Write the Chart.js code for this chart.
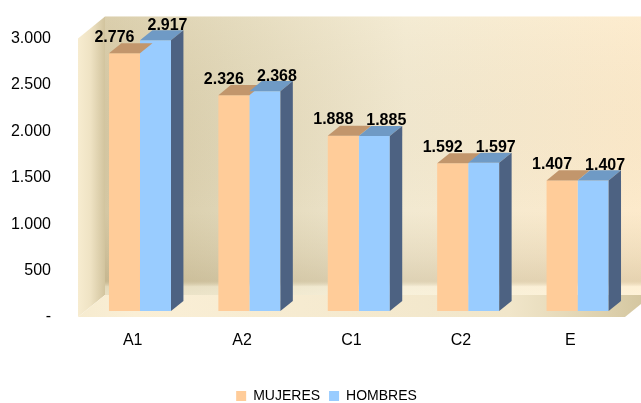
<!DOCTYPE html>
<html>
<head>
<meta charset="utf-8">
<script src="https://cdn.jsdelivr.net/npm/chart.js@4/dist/chart.umd.min.js"></script>
<style>
  html, body { margin: 0; padding: 0; background: #ffffff; }
  #wrap { width: 641px; height: 403px; }
</style>
</head>
<body>
<div id="wrap"><canvas id="chart" width="641" height="403"></canvas></div>
<script>
// Niveles y número de personas por sexo
const categories = ['A1', 'A2', 'C1', 'C2', 'E'];
const mujeres = [2776, 2326, 1888, 1592, 1407];
const hombres = [2917, 2368, 1885, 1597, 1407];
const seriesNames = ['MUJERES', 'HOMBRES'];
const yMax = 3000;
const yStep = 500;

// Perspective of the 3D box: depth offset of the back plane, and where the
// bars sit inside that depth (fractions of it).
const DEPTH = { x: 27, y: -22 };
const BAR_FRONT = 0.27;
const BAR_BACK = 0.73;

const faceColors = [
  { front: '#FFCC99', top: '#C2966C', side: '#B0845A' },
  { front: '#99CCFF', top: '#6F9AC5', side: '#4D6282' }
];

// Spanish thousands separator: 2776 -> "2.776"
function fmt(v) {
  return String(Math.round(v)).replace(/\B(?=(\d{3})+(?!\d))/g, '.');
}

function poly(ctx, pts, color) {
  ctx.beginPath();
  ctx.moveTo(pts[0][0], pts[0][1]);
  for (let i = 1; i < pts.length; i++) ctx.lineTo(pts[i][0], pts[i][1]);
  ctx.closePath();
  ctx.fillStyle = color;
  ctx.fill();
}

// Walls and floor of the 3D plot box
const boxPlugin = {
  id: 'box3d',
  afterLayout(chart) {
    // centre the legend under the plot box rather than the whole canvas
    if (chart.legend) {
      chart.legend.left += 14;
      chart.legend.right += 14;
    }
  },
  beforeDraw(chart) {
    const { ctx, chartArea: a } = chart;
    const dx = DEPTH.x, dy = DEPTH.y;
    ctx.save();

    // back wall
    const bl = a.left + dx, bt = a.top + dy, br = a.right + dx, bb = a.bottom + dy;
    let g = ctx.createLinearGradient(bl, 0, br, 0);
    g.addColorStop(0, '#D4C7A3');
    g.addColorStop(0.22, '#DFD5B6');
    g.addColorStop(0.55, '#F2E9D1');
    g.addColorStop(1, '#FDEACB');
    ctx.fillStyle = g;
    ctx.fillRect(bl, bt, br - bl, bb - bt);
    let v = ctx.createLinearGradient(0, bt, 0, bb);
    v.addColorStop(0, 'rgba(255,248,225,0.15)');
    v.addColorStop(0.7, 'rgba(160,140,90,0.0)');
    v.addColorStop(0.86, 'rgba(150,128,80,0.12)');
    v.addColorStop(0.95, 'rgba(150,128,80,0.22)');
    v.addColorStop(0.97, 'rgba(255,250,230,0.35)');
    v.addColorStop(1, 'rgba(255,250,230,0.45)');
    ctx.fillStyle = v;
    ctx.fillRect(bl, bt, br - bl, bb - bt);

    // left side wall
    g = ctx.createLinearGradient(a.left, 0, a.left + dx, 0);
    g.addColorStop(0, '#F7ECD0');
    g.addColorStop(0.45, '#EFE3C4');
    g.addColorStop(1, '#D2C49E');
    poly(ctx, [[a.left, a.top], [bl, bt], [bl, bb], [a.left, a.bottom]], g);

    // floor
    g = ctx.createLinearGradient(a.left, 0, br, 0);
    g.addColorStop(0, '#F6EBCF');
    g.addColorStop(0.1, '#FAEFD6');
    g.addColorStop(0.75, '#F1E6CA');
    g.addColorStop(0.93, '#DCCFAB');
    g.addColorStop(1, '#D2C49D');
    poly(ctx, [[a.left, a.bottom], [a.right, a.bottom], [br, bb], [bl, bb]], g);

    ctx.restore();
  },
  beforeDatasetsDraw(chart) {
    // bars stand part-way into the box depth
    chart.ctx.save();
    chart.ctx.translate(DEPTH.x * BAR_FRONT, DEPTH.y * BAR_FRONT);
  },
  afterDatasetsDraw(chart) {
    const ctx = chart.ctx;
    const bx = DEPTH.x * (BAR_BACK - BAR_FRONT);
    const by = DEPTH.y * (BAR_BACK - BAR_FRONT);
    const metas = chart.data.datasets.map((d, i) => chart.getDatasetMeta(i));

    metas.forEach((meta, di) => {
      const next = metas[di + 1];
      meta.data.forEach((el, j) => {
        const p = el.getProps(['x', 'y', 'base', 'width'], true);
        const l = p.x - p.width / 2, r = p.x + p.width / 2, t = p.y, b = p.base;
        const c = faceColors[di];
        // top face
        poly(ctx, [[l, t], [r, t], [r + bx, t + by], [l + bx, t + by]], c.top);
        // right face: fully for the last bar of a group, otherwise only
        // the part that rises above its neighbour
        if (!next) {
          poly(ctx, [[r, t], [r + bx, t + by], [r + bx, b + by], [r, b]], c.side);
        } else {
          const nt = next.data[j].getProps(['y'], true).y;
          if (t < nt) {
            poly(ctx, [[r, t], [r + bx, t + by], [r + bx, nt + by], [r, nt]], c.side);
          }
        }
      });
    });

    // value labels
    ctx.font = 'bold 16px "Liberation Sans", Arial, sans-serif';
    ctx.fillStyle = '#000000';
    ctx.textAlign = 'center';
    ctx.textBaseline = 'middle';
    const offs = [{ x: -10, y: -16 }, { x: 12, y: -15 }];
    metas.forEach((meta, di) => {
      const values = chart.data.datasets[di].data;
      meta.data.forEach((el, j) => {
        const p = el.getProps(['x', 'y'], true);
        ctx.fillText(fmt(values[j]), p.x + offs[di].x, p.y + offs[di].y);
      });
    });

    ctx.restore();
  }
};

const font16 = { family: '"Liberation Sans", Arial, sans-serif', size: 16 };

new Chart(document.getElementById('chart'), {
  type: 'bar',
  data: {
    labels: categories,
    datasets: [
      { label: seriesNames[0], data: mujeres, backgroundColor: faceColors[0].front, borderWidth: 0 },
      { label: seriesNames[1], data: hombres, backgroundColor: faceColors[1].front, borderWidth: 0 }
    ]
  },
  options: {
    responsive: false,
    animation: false,
    events: [],
    layout: { padding: { left: 0, right: 16, top: 38.5, bottom: 0 } },
    datasets: {
      bar: { categoryPercentage: 0.567, barPercentage: 1.0 }
    },
    scales: {
      x: {
        grid: { display: false, drawTicks: false },
        border: { display: false },
        ticks: { color: '#000000', font: font16, padding: 14, maxRotation: 0 },
        afterFit(scale) { scale.height = 63; }
      },
      y: {
        min: 0,
        max: yMax,
        grid: { display: false, drawTicks: false },
        border: { display: false },
        ticks: {
          stepSize: yStep,
          color: '#000000',
          font: font16,
          padding: 27,
          callback: (v) => (v === 0 ? '-' : fmt(v))
        },
        afterFit(scale) { scale.width = 78; }
      }
    },
    plugins: {
      tooltip: { enabled: false },
      legend: {
        position: 'bottom',
        maxHeight: 23,
        labels: {
          color: '#000000',
          font: { family: '"Liberation Sans", Arial, sans-serif', size: 14 },
          boxWidth: 10,
          boxHeight: 10,
          padding: 9
        }
      }
    }
  },
  plugins: [boxPlugin]
});
</script>
</body>
</html>
